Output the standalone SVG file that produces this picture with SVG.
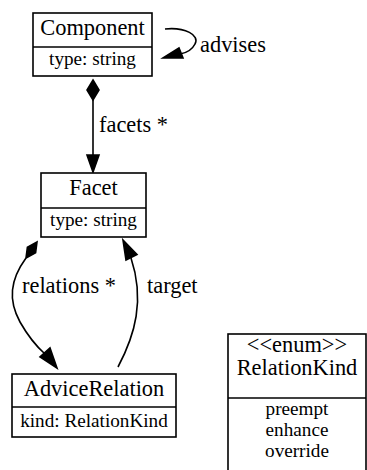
<svg xmlns="http://www.w3.org/2000/svg" width="367" height="470" viewBox="0 0 367 470" font-family="Liberation Serif, Times New Roman, serif">
<style>
text{font-family:"Liberation Serif","Times New Roman",serif;fill:#000}
.box{fill:#fff;stroke:#000;stroke-width:1.6}
.div{stroke:#000;stroke-width:1.6}
.t{font-size:22.4px;text-anchor:middle}
.a{font-size:19.2px;text-anchor:middle}
.l{font-size:22.4px}
.e{fill:none;stroke:#000;stroke-width:1.6}
.h{fill:#000;stroke:#000;stroke-width:1.6}
</style>
<rect width="367" height="470" fill="#fff"/>
<g id="connectors">
<path class="e" d="M93,100 L93,155"/>
<polygon class="h" points="93,80 99,90 93,100 87,90"/>
<polygon class="h" points="87,155 99,155 93,172"/>
<text class="l" x="99" y="132">facets *</text>
<path class="e" d="M165,29 C185,27 200,35 195,44 C192,50 186,53 180,54"/>
<polygon class="h" points="163,58 179,48 183,58"/>
<text class="l" x="200" y="52">advises</text>
<path class="e" d="M26,258 C10,280 8,300 20,322 C28,336 36,346 45,354"/>
<polygon class="h" points="37,242 35.6,252.8 26,258 27.4,247.2"/>
<polygon class="h" points="57,368 40,357 50,348"/>
<text class="l" x="22" y="293">relations *</text>
<path class="e" d="M118,367 C135,335 145,300 131,258"/>
<polygon class="h" points="123,240 137,254.5 126,260"/>
<text class="l" x="147" y="293">target</text>
</g>
<g id="Component">
<rect class="box" x="33" y="13" width="119" height="63"/>
<line class="div" x1="33" y1="47" x2="152" y2="47"/>
<text class="t" x="92.5" y="35">Component</text>
<text class="a" x="92.5" y="65">type: string</text>
</g>
<g id="Facet">
<rect class="box" x="41" y="173" width="105" height="64"/>
<line class="div" x1="41" y1="208" x2="146" y2="208"/>
<text class="t" x="93.5" y="195">Facet</text>
<text class="a" x="93.5" y="226">type: string</text>
</g>
<g id="AdviceRelation">
<rect class="box" x="12" y="374" width="164" height="63"/>
<line class="div" x1="12" y1="407" x2="176" y2="407"/>
<text class="t" x="94" y="396">AdviceRelation</text>
<text class="a" x="94" y="427">kind: RelationKind</text>
</g>
<g id="RelationKind">
<rect class="box" x="228" y="334" width="138" height="150"/>
<line class="div" x1="228" y1="398" x2="366" y2="398"/>
<text class="t" x="297" y="352">&lt;&lt;enum&gt;&gt;</text>
<text class="t" x="297" y="375">RelationKind</text>
<text class="a" x="297" y="415">preempt</text>
<text class="a" x="297" y="436">enhance</text>
<text class="a" x="297" y="457">override</text>
</g>
</svg>
